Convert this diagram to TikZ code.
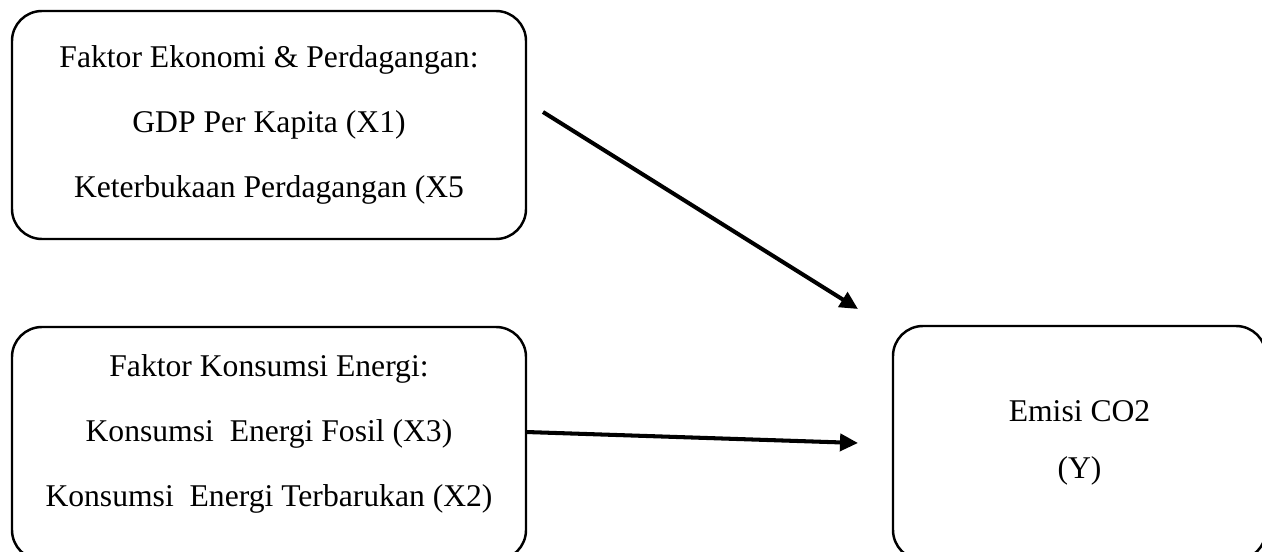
\documentclass[tikz,border=0pt]{standalone}
\usepackage{fontspec}
\setmainfont{Liberation Serif}
\usetikzlibrary{arrows.meta}

\begin{document}
\begin{tikzpicture}[
  kotak/.style={draw, line width=1.4pt, rounded corners=0.6cm, align=center,
    font=\fontsize{18}{37}\selectfont},
  panah/.style={line width=2.3pt, -{Triangle[length=0.36cm,width=0.34cm]}}]
  \useasboundingbox (0,0) rectangle (25.24,11.02);

  \coordinate (a) at (10.86,8.78) {};
  \coordinate (b) at (17.16,4.84) {};
  \coordinate (c) at (10.52,2.38) {};
  \coordinate (d) at (17.16,2.16) {};

  \node[kotak, minimum width=10.28cm, minimum height=4.56cm] (eko) at (5.38,8.52)
    {Faktor Ekonomi \& Perdagangan:\\GDP Per Kapita (X1)\\Keterbukaan Perdagangan (X5};
  \node[kotak, minimum width=10.28cm, minimum height=4.66cm] (energi) at (5.38,2.15)
    {Faktor Konsumsi Energi:\\Konsumsi\ \ Energi Fosil (X3)\\Konsumsi\ \ Energi Terbarukan (X2)\\[-0.8cm]};
  \node[kotak, minimum width=7.46cm, minimum height=4.68cm] (emisi) at (21.59,2.16)
    {Emisi CO2\\[-0.15cm](Y)};

  \draw[panah] (a) -- (b);
  \draw[panah] (c) -- (d);
\end{tikzpicture}
\end{document}
